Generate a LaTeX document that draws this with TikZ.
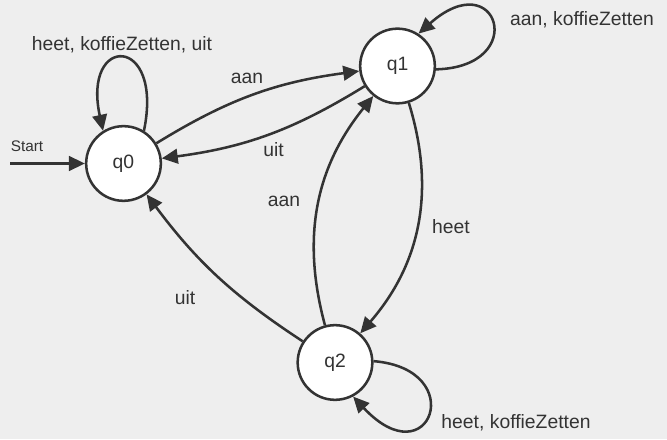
\documentclass[tikz,border=0pt]{standalone}
\usepackage{fontspec}
\setmainfont{Liberation Sans}
\usetikzlibrary{arrows.meta}
\definecolor{inkgray}{RGB}{51,51,51}
\definecolor{paper}{RGB}{238,238,238}

\begin{document}
\begin{tikzpicture}[x=0.75pt,y=0.75pt,
  state/.style={circle,draw=inkgray,line width=1.9pt,fill=white,
    minimum size=56pt,inner sep=0pt,text=inkgray,font=\fontsize{14.5}{17}\selectfont},
  trans/.style={-{Triangle[length=12pt,width=11pt]},line width=1.9pt,draw=inkgray},
  lbl/.style={text=inkgray,inner sep=0pt,font=\fontsize{14.5}{17}\selectfont}]
  % --- canvas -------------------------------------------------------------
  \fill[paper] (0,0) rectangle (667,439);
  \useasboundingbox (0,0) rectangle (667,439);

  % --- states -------------------------------------------------------------
  \node[state] (q0) at (123.5,275.5) {q0};
  \node[state] (q1) at (397.5,373) {q1};
  \node[state] (q2) at (335,76.5) {q2};
  \coordinate (start) at (10,275.5);

  % --- start arrow --------------------------------------------------------
  \draw[trans] (start) -- (q0);
  \node[lbl,font=\fontsize{11.5}{14}\selectfont] (startlbl) at (27,293) {Start};

  % --- self loops ---------------------------------------------------------
  \draw[trans] (q0.58) .. controls (164,405) and (82,405) .. (q0.122);
  \draw[trans] (q1.-5) .. controls (530,372) and (498,476) .. (q1.57);
  \draw[trans] (q2.2) .. controls (470,70) and (430,-40) .. (q2.298);
  \node[lbl] (loop0) at (122,394) {heet, koffieZetten, uit};
  \node[lbl] (loop1) at (582,419) {aan, koffieZetten};
  \node[lbl] (loop2) at (516,16) {heet, koffieZetten};

  % --- transitions between states ----------------------------------------
  \draw[trans] (q0) to[bend left=12] (q1);
  \draw[trans] (q1) to[bend left=12] (q0);
  \draw[trans] (q1) to[bend left=29] (q2);
  \draw[trans] (q2) to[bend left=27] (q1);
  \draw[trans] (q2) to[bend left=10] (q0);
  \node[lbl] (aan01) at (247,361) {aan};
  \node[lbl] (uit10) at (273.5,289) {uit};
  \node[lbl] (heet12) at (451,212) {heet};
  \node[lbl] (aan21) at (284,238) {aan};
  \node[lbl] (uit20) at (185,141) {uit};
\end{tikzpicture}
\end{document}
